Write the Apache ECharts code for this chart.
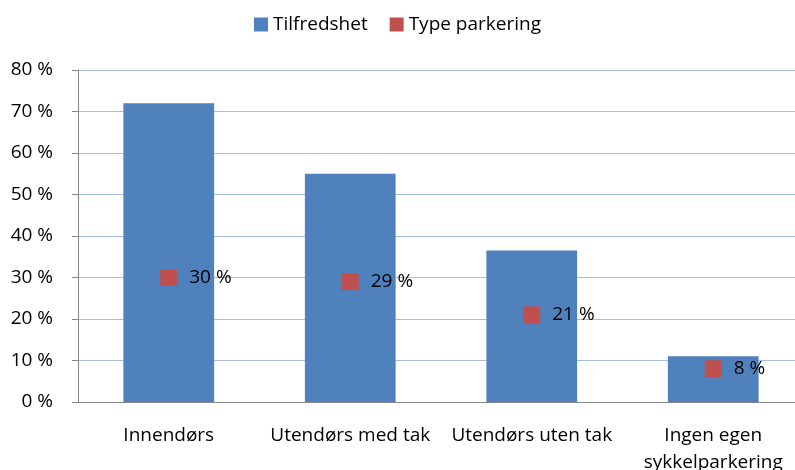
<!DOCTYPE html>
<html>
<head>
<meta charset="utf-8">
<script src="https://cdn.jsdelivr.net/npm/echarts@6/dist/echarts.min.js"></script>
<style>
  html, body { margin: 0; padding: 0; background: #fff; }
  #chart { width: 795px; height: 470px; }
</style>
</head>
<body>
<div id="chart"></div>
<script>
  var categories = ["Innendørs", "Utendørs med tak", "Utendørs uten tak", "Ingen egen\nsykkelparkering"];
  var tilfredshet = [72, 55, 36.5, 11];
  var typeParkering = [30, 29, 21, 8];
  var yTicks = [0, 10, 20, 30, 40, 50, 60, 70, 80];

  var font = "Open Sans";
  var myChart = echarts.init(document.getElementById("chart"));
  var option = {
    animation: false,
    textStyle: { fontFamily: font },
    legend: {
      top: 10,
      left: "center",
      itemWidth: 14,
      itemHeight: 14,
      itemGap: 22,
      textStyle: { fontSize: 19, color: "#000", fontFamily: font },
      data: [
        { name: "Tilfredshet", icon: "rect", itemStyle: { opacity: 1 } },
        { name: "Type parkering", icon: "rect", itemStyle: { opacity: 1 } }
      ]
    },
    grid: {
      left: 78,
      top: 70,
      width: 726,
      height: 332,
      containLabel: false,
      outerBoundsMode: "none"
    },
    xAxis: {
      type: "category",
      data: categories,
      axisLine: { lineStyle: { color: "#868686" } },
      axisTick: { length: 6, lineStyle: { color: "#868686" } },
      axisLabel: { color: "#000", fontSize: 19, margin: 20, lineHeight: 27, interval: 0, fontFamily: font }
    },
    yAxis: {
      type: "value",
      min: yTicks[0],
      max: yTicks[yTicks.length - 1],
      interval: 10,
      axisLine: { show: true, lineStyle: { color: "#868686" } },
      axisTick: { show: true, length: 6, lineStyle: { color: "#868686" } },
      splitLine: { lineStyle: { color: "#A7BFDE", width: 1 } },
      axisLabel: {
        color: "#000",
        fontSize: 19,
        margin: 25,
        fontFamily: font,
        formatter: function (v) { return v + " %"; }
      }
    },
    series: [
      {
        name: "Tilfredshet",
        type: "bar",
        data: tilfredshet,
        barWidth: "50%",
        itemStyle: { color: "#4F81BD" }
      },
      {
        name: "Type parkering",
        type: "scatter",
        data: typeParkering,
        symbol: "rect",
        symbolSize: 17,
        itemStyle: { color: "#C0504D", opacity: 1 },
        label: {
          show: true,
          position: "right",
          distance: 12,
          color: "#000",
          fontSize: 19,
          fontFamily: font,
          formatter: function (p) { return p.value + " %"; }
        }
      }
    ]
  };
  myChart.setOption(option);
</script>
</body>
</html>
